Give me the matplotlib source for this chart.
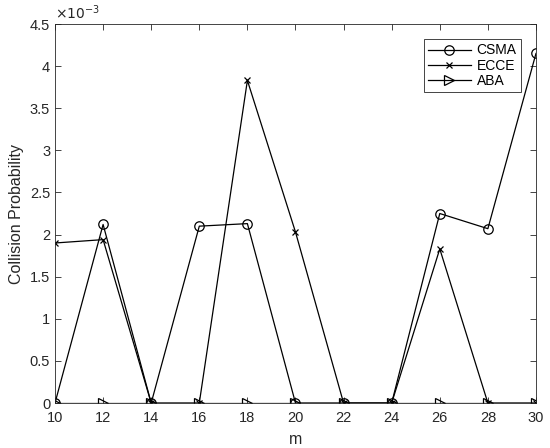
import matplotlib
matplotlib.use("Agg")
import matplotlib.pyplot as plt

plt.rcParams['font.family'] = ['Liberation Sans', 'DejaVu Sans']

m = [10, 12, 14, 16, 18, 20, 22, 24, 26, 28, 30]
csma = [0, 2.12, 0, 2.10, 2.13, 0, 0, 0, 2.25, 2.07, 4.15]
ecce = [1.90, 1.94, 0, 0, 3.83, 2.03, 0, 0, 1.83, 0, 0]
aba = [0, 0, 0, 0, 0, 0, 0, 0, 0, 0, 0]

fig = plt.figure(figsize=(5.5, 4.48), dpi=100)
ax = fig.add_axes([0.1, 0.1004, 0.8745, 0.846])

lw = 0.9
ax.plot(m, csma, color='black', lw=lw, marker='o', ms=6.8,
        mfc='none', mew=0.9, label='CSMA')
ax.plot(m, ecce, color='black', lw=lw, marker='x', ms=5,
        mew=0.9, label='ECCE')
ax.plot(m, aba, color='black', lw=lw, marker='>', ms=6.8,
        mfc='none', mew=0.9, label='ABA')

ax.set_xlim(10, 30)
ax.set_ylim(0, 4.5)
ax.set_xticks(m)
ax.set_yticks([0, 0.5, 1, 1.5, 2, 2.5, 3, 3.5, 4, 4.5])
ax.set_yticklabels(['0', '0.5', '1', '1.5', '2', '2.5', '3', '3.5', '4', '4.5'])
ax.tick_params(direction='in', top=True, right=True, labelsize=10.5,
               length=4, width=0.6, colors='#262626', labelcolor='#262626')
ax.tick_params(axis='x', pad=6)
for s in ax.spines.values():
    s.set_linewidth(0.6)
    s.set_color('#262626')

ax.set_xlabel('m', fontsize=11.5, color='#262626', labelpad=5)
ax.set_ylabel('Collision Probability', fontsize=11.5, color='#262626')
ax.text(0.0, 1.005, r'$\times10^{-3}$', transform=ax.transAxes, fontsize=10,
        ha='left', va='bottom', color='#262626')

leg = ax.legend(loc='upper right', fontsize=10, handlelength=3.1,
                fancybox=False, framealpha=1, edgecolor='#262626',
                borderpad=0.3, labelspacing=0.1, handletextpad=0.4,
                borderaxespad=1.1)
leg.get_frame().set_linewidth(0.6)

fig.savefig('out.png', dpi=100)
